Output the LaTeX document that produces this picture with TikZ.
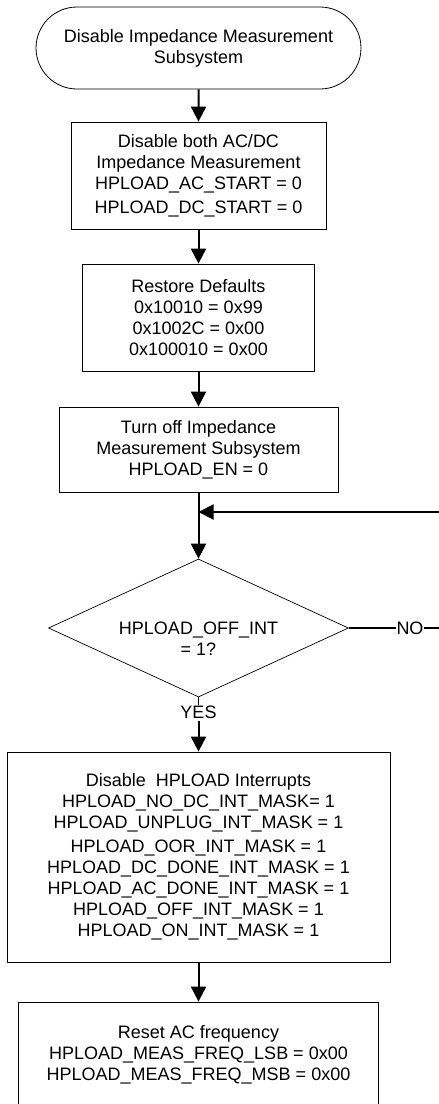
\documentclass[tikz,border=0pt]{standalone}
\usepackage{fontspec}
\setmainfont{Liberation Sans}
\usetikzlibrary{arrows.meta}
\usetikzlibrary{shapes.geometric}
\usetikzlibrary{shapes.misc}

\begin{document}
\begin{tikzpicture}[x=1pt,y=-1pt,
  box/.style={rectangle,draw,line width=0.8pt,align=center,inner sep=0pt,font=\fontsize{18}{21}\selectfont},
  txt/.style={draw=none,align=center,inner sep=1pt,font=\fontsize{18}{21}\selectfont},
  flow/.style={line width=2pt,-{Triangle[width=15pt,length=15pt]}},
  wire/.style={line width=2pt}]
\useasboundingbox (0,0) rectangle (439,1104);

\node[box,rounded rectangle,minimum width=325pt,minimum height=82pt] (start) at (198.5,48) {Disable Impedance Measurement\\Subsystem};
\node[box,minimum width=255pt,minimum height=107pt] (acdc) at (198.5,175.5) {Disable both AC/DC\\Impedance Measurement\\HPLOAD\_AC\_START = 0\\[3pt]HPLOAD\_DC\_START = 0};
\node[box,minimum width=232pt,minimum height=107pt] (defaults) at (198.5,317.5) {Restore Defaults\\0x10010 = 0x99\\0x1002C = 0x00\\0x100010 = 0x00};
\node[box,minimum width=279pt,minimum height=85pt] (turnoff) at (198.5,449.5) {Turn off Impedance\\Measurement Subsystem\\HPLOAD\_EN = 0};

\node[diamond,draw,line width=0.7pt,inner sep=0pt,minimum width=300pt,minimum height=138pt,shape aspect=2.17] (offq) at (198.5,628) {};
\node[txt] (offtxt) at (198.5,639) {HPLOAD\_OFF\_INT\\= 1?};
\node[txt,inner sep=0pt] (no) at (410,628) {NO};
\node[txt,inner sep=0pt] (yes) at (198.5,712) {YES};

\node[box,minimum width=383pt,minimum height=210pt] (masks) at (198.5,857) {Disable~~HPLOAD Interrupts\\HPLOAD\_NO\_DC\_INT\_MASK= 1\\HPLOAD\_UNPLUG\_INT\_MASK = 1\\[3pt]HPLOAD\_OOR\_INT\_MASK = 1\\HPLOAD\_DC\_DONE\_INT\_MASK = 1\\HPLOAD\_AC\_DONE\_INT\_MASK = 1\\HPLOAD\_OFF\_INT\_MASK = 1\\HPLOAD\_ON\_INT\_MASK = 1};
\node[box,minimum width=360pt,minimum height=106pt] (freq) at (198.5,1055) {Reset AC frequency\\HPLOAD\_MEAS\_FREQ\_LSB = 0x00\\HPLOAD\_MEAS\_FREQ\_MSB = 0x00};

% loop back point, outer side lies past the page edge
\coordinate (join) at (198.5,512);
\coordinate (edge) at (442,628);
\coordinate (edgetop) at (442,512);

\draw[flow] (start) -- (acdc);
\draw[flow] (acdc) -- (defaults);
\draw[flow] (defaults) -- (turnoff);
\draw[flow] (turnoff.south) -- (offq.north);
\draw[wire] (offq.east) -- (no.west);
\draw[wire] (no.east) -- (edge) -- (edgetop);
\draw[flow] (edgetop) -- (join);
\draw[line width=1pt] (offq.south) -- (yes.north);
\draw[flow] (yes.south) ++(0,2) -- (masks.north);
\draw[flow] (masks) -- (freq);

\end{tikzpicture}
\end{document}
